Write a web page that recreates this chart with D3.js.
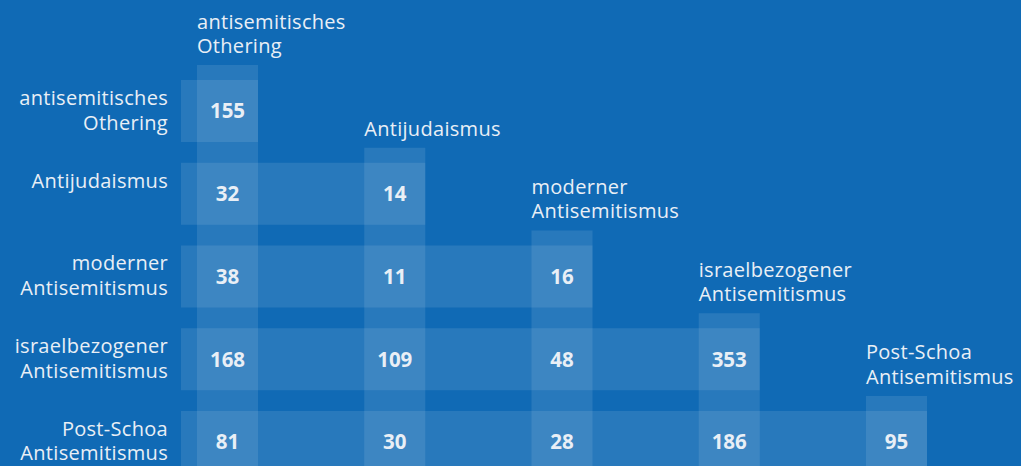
<!DOCTYPE html>
<html>
<head>
<meta charset="utf-8">
<script src="https://cdn.jsdelivr.net/npm/d3@7"></script>
<style>
  html, body { margin: 0; padding: 0; background: #106ab5; overflow: hidden; }
  svg { display: block; }
</style>
</head>
<body>
<svg width="1021" height="466"></svg>
<script>
const width = 1021;
const height = 466;

// category labels (same order for rows and columns)
const categories = [
    "antisemitisches Othering",
    "Antijudaismus",
    "moderner Antisemitismus",
    "israelbezogener Antisemitismus",
    "Post-Schoa Antisemitismus",
];
// how each label is broken into lines
const labelLines = [
    ["antisemitisches", "Othering"],
    ["Antijudaismus"],
    ["moderner", "Antisemitismus"],
    ["israelbezogener", "Antisemitismus"],
    ["Post-Schoa", "Antisemitismus"],
];
// lower triangle: row i, columns 0..i
const counts = [
    [155],
    [32, 14],
    [38, 11, 16],
    [168, 109, 48, 353],
    [81, 30, 28, 186, 95],
];

const bg = "#106ab5";
const textColor = "#e9eff6";
const font = "'Open Sans', 'Noto Sans', sans-serif";
const labelSize = 20;
const lineGap = 24.5;

const svg = d3.select("svg");
svg.append("rect").attr("width", width).attr("height", height).attr("fill", bg);

const x = d3.scaleBand()
    .domain(categories)
    .range([197, 927])
    .paddingInner(0.635)
    .paddingOuter(0);

const y = d3.scaleBand()
    .domain(categories)
    .range([80, 473])
    .paddingInner(0.25)
    .paddingOuter(0);

const rowLeft = 181;
const colOverhang = 15;

// rows: horizontal translucent bands
svg.append("g")
    .selectAll("rect")
    .data(categories)
    .join("rect")
    .attr("x", rowLeft)
    .attr("y", (d) => y(d))
    .attr("width", (d) => x(d) + x.bandwidth() - rowLeft)
    .attr("height", y.bandwidth())
    .attr("fill", "#fff")
    .attr("fill-opacity", 0.1);

// columns: vertical translucent bands
svg.append("g")
    .selectAll("rect")
    .data(categories)
    .join("rect")
    .attr("x", (d) => x(d))
    .attr("y", (d) => y(d) - colOverhang)
    .attr("width", x.bandwidth())
    .attr("height", (d) => height - y(d) + colOverhang)
    .attr("fill", "#fff")
    .attr("fill-opacity", 0.1);

// row labels (right aligned, top aligned)
const rowLabels = svg.append("g")
    .selectAll("text")
    .data(categories)
    .join("text")
    .attr("text-anchor", "end")
    .attr("font-family", font)
    .attr("font-size", labelSize)
    .attr("letter-spacing", 0.3)
    .attr("fill", textColor);
rowLabels.each(function (d, i) {
    d3.select(this)
        .selectAll("tspan")
        .data(labelLines[i])
        .join("tspan")
        .attr("x", 168)
        .attr("y", (t, j) => y(d) + 25 + j * lineGap)
        .text((t) => t);
});

// column headers (left aligned above each column)
const colLabels = svg.append("g")
    .selectAll("text")
    .data(categories)
    .join("text")
    .attr("font-family", font)
    .attr("font-size", labelSize)
    .attr("letter-spacing", 0.3)
    .attr("fill", textColor);
colLabels.each(function (d, i) {
    const lines = labelLines[i];
    d3.select(this)
        .selectAll("tspan")
        .data(lines)
        .join("tspan")
        .attr("x", x(d))
        .attr("y", (t, j) => y(d) - colOverhang - 12 - (lines.length - 1 - j) * lineGap)
        .text((t) => t);
});

// cell values
const cells = [];
counts.forEach((row, i) => {
    row.forEach((v, j) => {
        cells.push({ row: categories[i], col: categories[j], value: v });
    });
});

svg.append("g")
    .selectAll("text")
    .data(cells)
    .join("text")
    .attr("x", (d) => x(d.col) + x.bandwidth() / 2)
    .attr("y", (d) => y(d.row) + y.bandwidth() / 2)
    .attr("dy", "0.36em")
    .attr("text-anchor", "middle")
    .attr("font-family", font)
    .attr("font-size", 20.5)
    .attr("font-weight", 700)
    .attr("fill", textColor)
    .text((d) => d.value);
</script>
</body>
</html>
